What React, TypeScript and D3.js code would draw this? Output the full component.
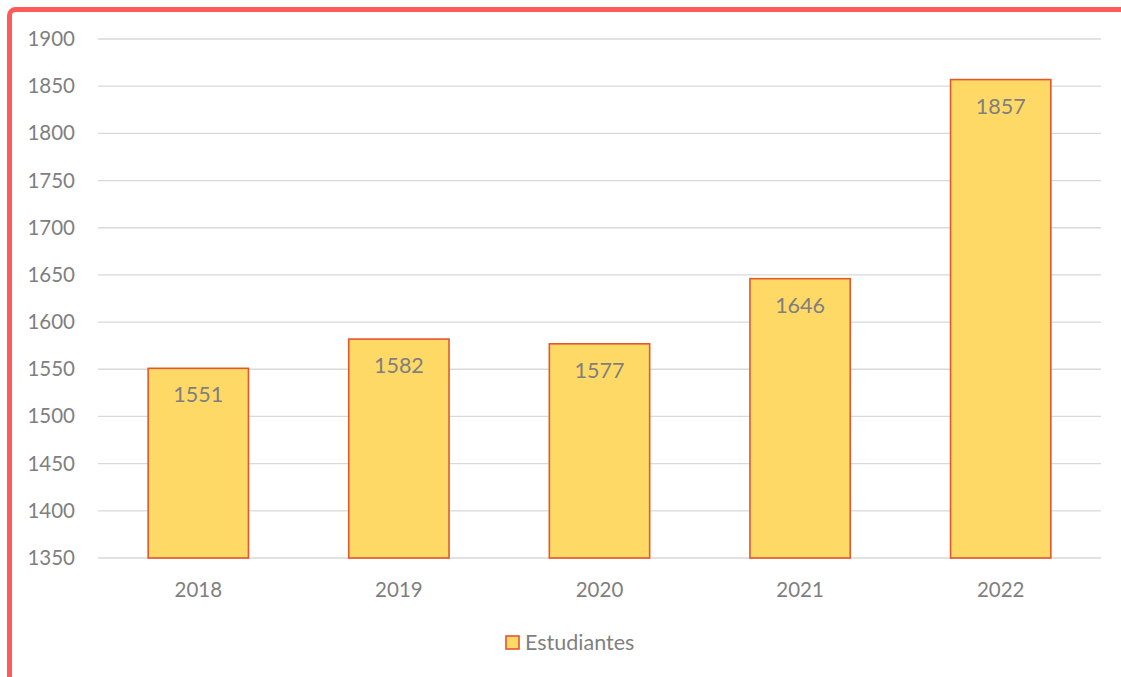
import React, { useEffect, useRef } from 'react'
import * as d3 from 'd3'

const years = ['2018', '2019', '2020', '2021', '2022']
const estudiantes = [1551, 1582, 1577, 1646, 1857]
const yTicks = [1350, 1400, 1450, 1500, 1550, 1600, 1650, 1700, 1750, 1800, 1850, 1900]
const seriesName = 'Estudiantes'

const W = 1121
const H = 677

export default function App() {
    const ref = useRef<SVGSVGElement>(null)

    useEffect(() => {
        const svg = d3.select(ref.current)
        svg.selectAll('*').remove()

        const font = 'Lato, "Open Sans", sans-serif'
        const grey = '#7f7f7f'

        const left = 98, right = 1101, top = 39, bottom = 558

        const x = d3.scaleBand<string>().domain(years).range([left, right]).paddingInner(0.5).paddingOuter(0.25)
        const y = d3.scaleLinear().domain([1350, 1900]).range([bottom, top])

        // outer frame
        svg.append('rect')
            .attr('x', 9.5).attr('y', 9.5)
            .attr('width', W + 20).attr('height', H + 20)
            .attr('rx', 6)
            .attr('fill', 'white')
            .attr('stroke', '#ff5a5a')
            .attr('stroke-width', 5)

        // gridlines
        svg.append('g').selectAll('line').data(yTicks).join('line')
            .attr('x1', left).attr('x2', right)
            .attr('y1', d => y(d)).attr('y2', d => y(d))
            .attr('stroke', '#d9d9d9').attr('stroke-width', 1.3)

        // y labels
        svg.append('g').selectAll('text').data(yTicks).join('text')
            .attr('x', 75).attr('y', d => y(d) + 7)
            .attr('text-anchor', 'end')
            .attr('font-family', font).attr('font-size', 20.5)
            .attr('fill', grey)
            .text(d => d)

        // bars
        svg.append('g').selectAll('rect').data(estudiantes).join('rect')
            .attr('x', (d, i) => x(years[i])!)
            .attr('y', d => y(d))
            .attr('width', x.bandwidth())
            .attr('height', d => bottom - y(d))
            .attr('fill', '#ffd966')
            .attr('stroke', '#e2572b')
            .attr('stroke-width', 1.6)

        // data labels
        svg.append('g').selectAll('text').data(estudiantes).join('text')
            .attr('x', (d, i) => x(years[i])! + x.bandwidth() / 2)
            .attr('y', d => y(d) + 34)
            .attr('text-anchor', 'middle')
            .attr('font-family', font).attr('font-size', 21.5)
            .attr('fill', grey)
            .text(d => d)

        // x labels
        svg.append('g').selectAll('text').data(years).join('text')
            .attr('x', d => x(d)! + x.bandwidth() / 2)
            .attr('y', 597)
            .attr('text-anchor', 'middle')
            .attr('font-family', font).attr('font-size', 20.5)
            .attr('fill', grey)
            .text(d => d)

        // legend
        const lg = svg.append('g')
        lg.append('rect')
            .attr('x', 506).attr('y', 636)
            .attr('width', 13).attr('height', 13)
            .attr('fill', '#ffd966')
            .attr('stroke', '#e2572b')
            .attr('stroke-width', 1.6)
        lg.append('text')
            .attr('x', 525).attr('y', 650)
            .attr('font-family', font).attr('font-size', 21.5)
            .attr('fill', grey)
            .text(seriesName)
    }, [])

    return (
        <svg ref={ref} width={W} height={H}
            style={{ position: 'absolute', left: 0, top: 0, background: 'white' }} />
    )
}
